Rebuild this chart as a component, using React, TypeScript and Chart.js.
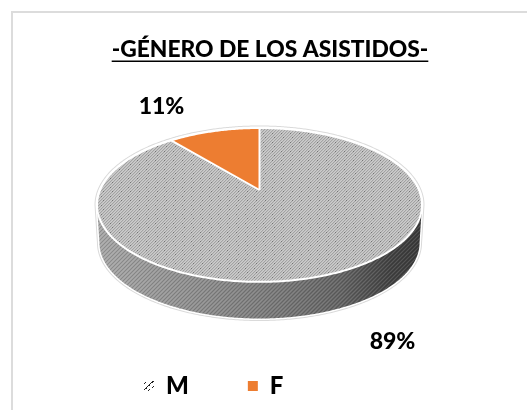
import React, { useEffect, useRef } from "react";
import { Chart, registerables } from "chart.js";

Chart.register(...registerables);

const categories = ["M", "F"];
const values = [89, 11];
const titleText = "-GÉNERO DE LOS ASISTIDOS-";
const orange = "#ED7D31";
const FONT = "Lato, 'Open Sans', sans-serif";

function tile(size: number, paint: (c: CanvasRenderingContext2D) => void) {
  const c = document.createElement("canvas");
  c.width = size;
  c.height = size;
  const x = c.getContext("2d")!;
  paint(x);
  return x.createPattern(c, "repeat")!;
}

function pixels(
  x: CanvasRenderingContext2D,
  rows: string[],
  colors: Record<string, string>,
  yOffset = 0
) {
  rows.forEach((r, j) =>
    r.split("").forEach((ch, i) => {
      x.fillStyle = colors[ch];
      x.fillRect(i, (j + yOffset) % rows.length, 1, 1);
    })
  );
}

const surfaceColors = { a: "#a2a2a2", b: "#c0c0c0", c: "#cccccc", d: "#747474" };
const surfaceRows = [
  "abcabcabc",
  "bcabcabca",
  "cabcdbcab",
  "abcabcabc",
  "bcabcabca",
  "cabcabcab",
  "abcabcabc",
  "bcdbcabca",
  "cabcabcab",
];
const legendRows = [
  "wwwwwwwwkkww",
  "wkwwwwwkkwww",
  "kwwwwwkwwwww",
  "wwwwwkwwwwww",
  "wwwwkkwwwwww",
  "wwwkwwwwwkww",
  "wwkwwwwwkwww",
  "wkkwwwwwwwww",
  "kwwwwkwwwwww",
  "wwwwkwwwwwww",
  "wwwwwwwwwwww",
  "wwwwwwwwwwww",
];

// Perspective of the tilted disc
const CX = 259.5;
const APEX_Y = 190;
const A = 159.4;
const B = 74.05;
const K = 0.194;
const DEPTH = 38;
const BASE_SCALE = 0.985;

function project(angle: number, depth = 0, scale = 1) {
  const u = Math.cos(angle);
  const v = -Math.sin(angle);
  const w = 1 + K * v;
  return { x: CX + (scale * A * u) / w, y: APEX_Y + depth - (scale * B * v) / w };
}

function trace(ctx: CanvasRenderingContext2D, pts: { x: number; y: number }[], join = false) {
  pts.forEach((p, i) => (i || join ? ctx.lineTo(p.x, p.y) : ctx.moveTo(p.x, p.y)));
}

function arcPoints(a0: number, a1: number, depth = 0, scale = 1) {
  const n = Math.max(8, Math.round(Math.abs(a1 - a0) * 90));
  const out = [];
  for (let i = 0; i <= n; i++) out.push(project(a0 + ((a1 - a0) * i) / n, depth, scale));
  return out;
}

let wallCache: CanvasPattern | null = null;
function wallPattern() {
  if (!wallCache) {
    wallCache = tile(4, (x) => {
      for (let i = 0; i < 4; i++) {
        x.fillStyle = "rgba(0,0,0,0.16)";
        x.fillRect(i, 3 - i, 1, 1);
        x.fillStyle = "rgba(255,255,255,0.10)";
        x.fillRect((i + 2) % 4, 3 - i, 1, 1);
      }
    });
  }
  return wallCache;
}

const discPlugin = {
  id: "disc",
  afterLayout(chart: any) {
    const lg = chart.legend;
    if (lg) {
      lg.left = 85;
      lg.right = 527;
      lg.top = 374 - 59;
    }
    const tb = chart.titleBlock;
    if (tb) {
      tb.left = 13;
      tb.right = 527;
    }
  },
  beforeDraw(chart: any) {
    const ctx = chart.ctx;
    ctx.save();
    ctx.fillStyle = "#ffffff";
    ctx.fillRect(0, 0, 527, 410);
    ctx.fillStyle = "#dcdcdc";
    ctx.fillRect(11, 11, 516, 2);
    ctx.fillRect(11, 11, 2, 399);
    ctx.restore();
  },
  beforeDatasetDraw(chart: any, args: any) {
    const ctx: CanvasRenderingContext2D = chart.ctx;
    const meta = args.meta;
    const frontL = Math.PI - Math.asin(K);
    const frontR = Math.asin(K);
    const front = arcPoints(frontR, frontL);
    const baseFront = arcPoints(frontL, frontR, DEPTH, BASE_SCALE);
    const rimBack = arcPoints(frontL, frontR + 2 * Math.PI);

    ctx.save();
    ctx.lineJoin = "round";
    // silhouette outline
    ctx.beginPath();
    trace(ctx, [...rimBack, ...baseFront.slice().reverse()]);
    ctx.closePath();
    ctx.strokeStyle = "#dadada";
    ctx.lineWidth = 5;
    ctx.stroke();
    ctx.strokeStyle = "#ffffff";
    ctx.lineWidth = 3;
    ctx.stroke();

    // wall
    ctx.beginPath();
    trace(ctx, [...front, ...baseFront]);
    ctx.closePath();
    const g = ctx.createLinearGradient(97, 0, 422, 0);
    g.addColorStop(0, "#a8a8a8");
    g.addColorStop(0.5, "#808080");
    g.addColorStop(0.75, "#666666");
    g.addColorStop(0.9, "#454545");
    g.addColorStop(1, "#3c3c3c");
    ctx.fillStyle = g;
    ctx.fill();
    ctx.fillStyle = wallPattern();
    ctx.fill();

    // top face, one slice per arc element
    meta.data.forEach((el: any) => {
      const { startAngle, endAngle } = el.getProps(["startAngle", "endAngle"], true);
      ctx.beginPath();
      ctx.moveTo(CX, APEX_Y);
      trace(ctx, arcPoints(startAngle, endAngle), true);
      ctx.closePath();
      ctx.fillStyle = el.options.backgroundColor;
      ctx.fill();
    });
    // white rim and slice edges
    ctx.beginPath();
    trace(ctx, arcPoints(0, Math.PI * 2));
    ctx.closePath();
    ctx.strokeStyle = "#ffffff";
    ctx.lineWidth = 2;
    ctx.stroke();
    meta.data.forEach((el: any) => {
      const p = project(el.getProps(["startAngle"], true).startAngle);
      ctx.beginPath();
      ctx.moveTo(CX, APEX_Y);
      ctx.lineTo(p.x, p.y);
      ctx.stroke();
    });
    ctx.restore();
    return false;
  },
  afterDraw(chart: any) {
    const ctx: CanvasRenderingContext2D = chart.ctx;
    const total = values.reduce((a, b) => a + b, 0);
    const anchors = [
      { x: 392.5, y: 342 },
      { x: 161.5, y: 107 },
    ];
    ctx.save();
    ctx.fillStyle = "#000000";
    ctx.font = `900 23px ${FONT}`;
    ctx.textAlign = "center";
    ctx.textBaseline = "middle";
    values.forEach((v, i) => ctx.fillText(`${Math.round((v / total) * 100)}%`, anchors[i].x, anchors[i].y));
    // title underline
    ctx.font = `900 22.8px ${FONT}`;
    const w = ctx.measureText(titleText).width;
    ctx.fillRect(270 - w / 2, 60.5, w, 1.5);
    ctx.restore();
  },
};

export default function App() {
  const ref = useRef<HTMLCanvasElement>(null);
  useEffect(() => {
    const surface = tile(9, (x) => pixels(x, surfaceRows, surfaceColors));
    const legendSwatch = tile(12, (x) =>
      pixels(x, legendRows, { w: "#ffffff", k: "#222222" }, 9)
    );
    const chart = new Chart(ref.current!, {
      type: "pie",
      data: {
        labels: categories,
        datasets: [{ data: values, backgroundColor: [surface, orange], borderWidth: 0 }],
      },
      options: {
        animation: false,
        responsive: false,
        events: [],
        plugins: {
          tooltip: { enabled: false },
          title: {
            display: true,
            text: titleText,
            color: "#000000",
            font: { family: FONT, size: 22.8, weight: "900" },
            padding: { top: 36, bottom: 10 },
            align: "center",
          },
          legend: {
            display: true,
            position: "bottom",
            align: "start",
            labels: {
              boxWidth: 10,
              boxHeight: 10,
              padding: 59,
              color: "#000000",
              font: { family: FONT, size: 24, weight: "900" },
              generateLabels: () =>
                categories.map((text, i) => ({
                  text,
                  fillStyle: i === 0 ? legendSwatch : orange,
                  strokeStyle: "transparent",
                  lineWidth: 0,
                  hidden: false,
                  index: i,
                  fontColor: "#000000",
                })),
            },
          },
        },
      } as any,
      plugins: [discPlugin],
    });
    return () => chart.destroy();
  }, []);
  return (
    <canvas
      ref={ref}
      width={527}
      height={410}
      style={{ position: "absolute", left: 0, top: 0, display: "block" }}
    />
  );
}
